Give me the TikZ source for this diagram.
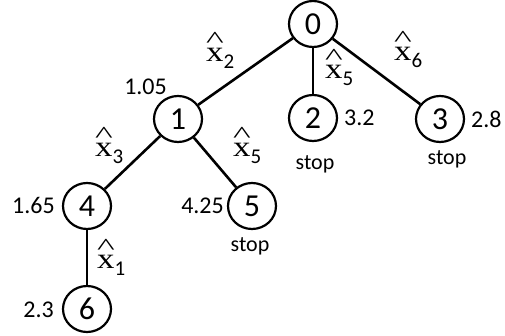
\documentclass[tikz,border=0pt]{standalone}
\usepackage{fontspec}
\usepackage{graphicx}
\setmainfont{Carlito}
\newfontfamily\seriffont{Liberation Serif}
\usetikzlibrary{shapes.geometric}
\newsavebox\xbox
\newcommand{\xh}[1]{\sbox\xbox{\seriffont\fontsize{29}{29}\selectfont\scalebox{1.2}[1]{x}}%
\makebox[0pt][l]{\makebox[\wd\xbox][c]{\raisebox{14pt}{\seriffont\fontsize{29}{29}\selectfont\scalebox{1.3}[0.8]{\textasciicircum}}}}%
\usebox\xbox\raisebox{-7pt}{\fontsize{21}{21}\selectfont #1}}
\begin{document}
\begin{tikzpicture}[x=1pt,y=-1pt,
  nd/.style={ellipse, draw, line width=2.2pt, minimum width=48pt, minimum height=46pt, inner sep=0pt, font=\fontsize{32}{32}\selectfont},
  lbl/.style={font=\fontsize{24}{24}\selectfont, inner sep=0pt},
  stp/.style={font=\fontsize{22}{22}\selectfont, inner sep=0pt},
  xl/.style={inner sep=0pt, anchor=base west},
  edge/.style={line width=2.6pt}]
\useasboundingbox (0,0) rectangle (505,336);
\node[nd] (n0) at (313,24) {0};
\node[nd] (n1) at (178,119) {1};
\node[nd] (n2) at (313,118) {2};
\node[nd] (n3) at (440,119) {3};
\node[nd] (n4) at (87,206) {4};
\node[nd] (n5) at (252,206) {5};
\node[nd] (n6) at (87,309) {6};
\draw[edge] (n0) -- (n1);
\draw[edge] (n0) -- (n2);
\draw[edge] (n0) -- (n3);
\draw[edge] (n1) -- (n4);
\draw[edge] (n1) -- (n5);
\draw[edge] (n4) -- (n6);
\node[lbl, anchor=east] (v1) at (167,87) {1.05};
\node[lbl, anchor=west] (v2) at (344,118) {3.2};
\node[lbl, anchor=west] (v3) at (471,119) {2.8};
\node[lbl, anchor=east] (v4) at (55,205) {1.65};
\node[lbl, anchor=east] (v5) at (224,206) {4.25};
\node[lbl, anchor=east] (v6) at (54,310) {2.3};
\node[stp] (s2) at (315,164) {stop};
\node[stp] (s3) at (447,159) {stop};
\node[stp] (s5) at (250,246) {stop};
\node[xl] (x2) at (206,62) {\xh{2}};
\node[xl] (x5a) at (325,79) {\xh{5}};
\node[xl] (x6) at (394,61) {\xh{6}};
\node[xl] (x3) at (95,157) {\xh{3}};
\node[xl] (x5b) at (233,157) {\xh{5}};
\node[xl] (x1) at (97,269) {\xh{1}};
\end{tikzpicture}
\end{document}
